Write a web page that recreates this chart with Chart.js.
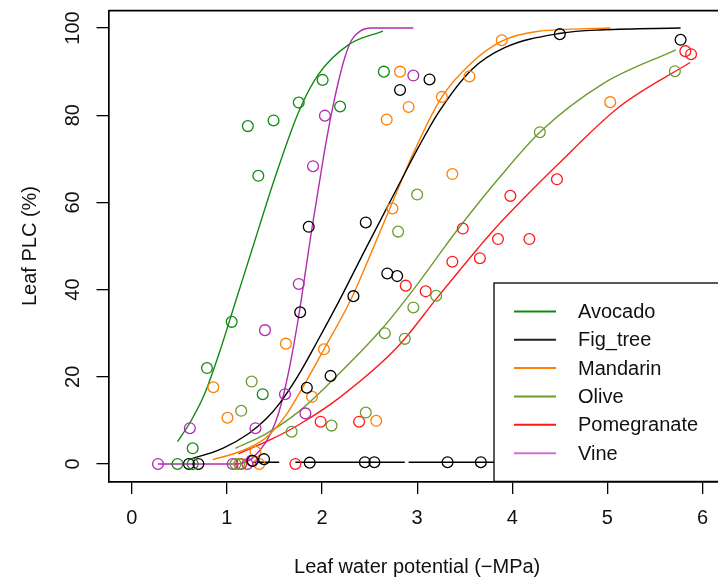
<!DOCTYPE html>
<html>
<head>
<meta charset="utf-8">
<script src="https://cdn.jsdelivr.net/npm/chart.js@4/dist/chart.umd.min.js"></script>
<style>
  html, body { margin: 0; padding: 0; overflow: hidden; background: #fff; }
  #wrap { width: 732px; height: 583px; }
</style>
</head>
<body>
<div id="wrap"><canvas id="plc" width="732" height="583"></canvas></div>
<script>
// species, colours (legend shows vine a bit lighter)
const species = ['Avocado', 'Fig_tree', 'Mandarin', 'Olive', 'Pomegranate', 'Vine'];
const colors = ['#128a12', '#000000', '#ff7f00', '#6c9c2c', '#ff1a1a', '#b02cb0'];
const legendColors = ['#128a12', '#222222', '#ff7f00', '#6c9c2c', '#ff1a1a', '#d070d0'];

const xTicks = [0, 1, 2, 3, 4, 5, 6];
const yTicks = [0, 20, 40, 60, 80, 100];

// measured points [water potential, PLC]
const avocadoPts = [[1.22, 77.5], [1.49, 78.8], [1.755, 82.9], [2.006, 88.1], [2.19, 82.0], [1.33, 66.1],
  [2.65, 90.0], [1.05, 32.6], [0.79, 22.0], [0.64, 3.6], [0.48, 0], [0.64, 0], [1.376, 16.0]];
const figPts = [[1.86, 54.4], [3.13, 88.2], [2.82, 85.8], [4.50, 98.6], [5.77, 97.3], [2.46, 55.4],
  [1.77, 34.8], [2.09, 20.2], [2.33, 38.5], [1.84, 17.5], [2.686, 43.7], [2.79, 43.1], [0.60, 0],
  [0.70, 0], [1.27, 0.7], [1.39, 1.1], [1.87, 0.3], [2.45, 0.4], [2.55, 0.4], [3.32, 0.4], [3.67, 0.4]];
const mandarinPts = [[2.82, 90.0], [2.91, 81.9], [2.68, 79.0], [3.89, 97.2], [3.55, 88.9], [3.26, 84.2],
  [5.03, 83.0], [3.37, 66.5], [2.74, 58.6], [0.857, 17.6], [1.62, 27.6], [2.02, 26.3], [1.895, 15.4],
  [1.006, 10.6], [1.30, 2.8], [1.34, 0], [2.57, 9.9]];
const olivePts = [[5.71, 90.1], [4.29, 76.1], [3.0, 61.8], [2.80, 53.3], [1.26, 18.9], [1.15, 12.2],
  [2.10, 8.8], [1.68, 7.4], [3.20, 38.6], [2.96, 35.9], [2.66, 30.0], [2.87, 28.7], [2.46, 11.8],
  [1.09, 0], [1.13, 0]];
const pomegranatePts = [[5.82, 94.7], [5.88, 94.0], [4.47, 65.3], [3.98, 61.5], [3.48, 54.0], [3.85, 51.6],
  [4.18, 51.6], [3.37, 46.4], [3.66, 47.2], [2.88, 40.9], [3.09, 39.6], [2.39, 9.7], [1.985, 9.7],
  [1.72, 0], [1.15, 0]];
const vinePts = [[2.03, 79.9], [1.905, 68.3], [2.96, 89.1], [0.61, 8.2], [0.275, 0], [1.40, 30.7],
  [1.755, 41.3], [1.61, 16.0], [1.825, 11.6], [1.30, 8.2], [1.06, 0], [1.215, 0], [1.26, 0.8]];

// fitted curves
const avocadoFit = [[0.48, 5.1], [0.62, 9.8], [0.76, 15.8], [0.92, 25.5], [1.09, 37.2], [1.27, 49.6],
  [1.51, 66.0], [1.755, 80.8], [1.96, 89.3], [2.28, 96.2], [2.64, 99.3]];
const figFit = [[0.60, 1.0], [0.955, 3.6], [1.23, 7.0], [1.41, 10.3], [1.55, 13.8], [1.755, 20.5],
  [1.96, 28.5], [2.17, 37.0], [2.45, 49.0], [2.87, 66.7], [3.01, 72.5], [3.22, 80.5], [3.57, 90.4],
  [3.92, 95.5], [4.51, 98.8], [4.96, 99.6], [5.77, 100]];
const mandarinFit = [[0.85, 1.0], [1.13, 2.8], [1.41, 6.0], [1.62, 11.2], [1.755, 16.0], [2.02, 26.3],
  [2.31, 38.0], [2.52, 48.6], [2.73, 59.5], [2.975, 72.0], [3.26, 84.2], [3.57, 92.0], [3.89, 97.0],
  [4.26, 99.2], [5.03, 100]];
const oliveFit = [[1.09, 3.6], [1.41, 6.9], [1.755, 12.0], [2.17, 20.5], [2.63, 31.0], [2.96, 40.0],
  [3.29, 49.8], [3.43, 53.9], [3.85, 65.3], [4.29, 76.1], [4.96, 87.3], [5.72, 95.0]];
const pomegranateFit = [[1.12, 2.3], [1.48, 5.8], [1.755, 9.0], [2.17, 15.0], [2.80, 27.0], [3.22, 38.4],
  [3.64, 49.5], [3.81, 53.8], [4.47, 68.5], [5.13, 82.0], [5.87, 92.1]];
const vineFit = [[0.275, 0], [1.10, 0], [1.20, 0.5], [1.27, 1.4], [1.41, 5.0], [1.51, 9.5], [1.58, 14.5],
  [1.67, 23.5], [1.755, 34.0], [1.89, 53.5], [2.02, 71.0], [2.10, 80.5], [2.17, 87.5], [2.24, 93.3],
  [2.31, 97.2], [2.40, 99.3], [2.52, 100], [2.96, 100]];

// broken black line along the zero level
const zeroLine = [[1.27, 0.4], [1.55, 0.4], [1.6, null], [1.72, 0.4], [2.87, 0.4], [2.89, null],
  [2.91, 0.4], [3.9, 0.4]];

const allPts = [avocadoPts, figPts, mandarinPts, olivePts, pomegranatePts, vinePts];
const allFits = [avocadoFit, figFit, mandarinFit, oliveFit, pomegranateFit, vineFit];

const toXY = arr => arr.map(p => ({ x: p[0], y: p[1] }));

const FONT = { family: '"Liberation Sans", Arial, sans-serif', size: 20 };

const datasets = [];
species.forEach((name, i) => {
  datasets.push({
    label: name,
    type: 'scatter',
    data: toXY(allPts[i]),
    showLine: false,
    pointStyle: 'circle',
    pointRadius: 5.4,
    pointBorderWidth: 1.3,
    pointBorderColor: colors[i],
    pointBackgroundColor: 'rgba(0,0,0,0)'
  });
});
species.forEach((name, i) => {
  datasets.push({
    label: name + ' fit',
    type: 'line',
    data: toXY(allFits[i]),
    borderColor: colors[i],
    borderWidth: 1.4,
    pointRadius: 0,
    cubicInterpolationMode: 'monotone',
    fill: false
  });
});
datasets.push({
  label: 'zero',
  type: 'line',
  data: toXY(zeroLine),
  borderColor: '#000',
  borderWidth: 1.4,
  pointRadius: 0,
  spanGaps: false,
  fill: false
});

// box top line + legend in the lower right corner
const boxAndLegend = {
  id: 'boxAndLegend',
  afterDraw(chart) {
    const { ctx, chartArea } = chart;
    ctx.save();
    ctx.strokeStyle = '#000';
    ctx.lineWidth = 1.7;
    ctx.beginPath();
    ctx.moveTo(chartArea.left, chartArea.top);
    ctx.lineTo(chartArea.right, chartArea.top);
    ctx.lineTo(chartArea.right, chartArea.bottom);
    ctx.stroke();

    const w = 231.3, h = 198.4;
    const lx = chartArea.right - w, ly = chartArea.bottom - h;
    ctx.fillStyle = '#fff';
    ctx.fillRect(lx, ly, w, h);
    ctx.lineWidth = 1.3;
    ctx.strokeRect(lx, ly, w, h);

    ctx.font = '20px "Liberation Sans", Arial, sans-serif';
    ctx.textBaseline = 'middle';
    ctx.textAlign = 'left';
    species.forEach((name, i) => {
      const y = ly + 28.4 + i * 28.35;
      ctx.strokeStyle = legendColors[i];
      ctx.lineWidth = 2;
      ctx.beginPath();
      ctx.moveTo(lx + 20, y);
      ctx.lineTo(lx + 62, y);
      ctx.stroke();
      ctx.fillStyle = '#111';
      ctx.fillText(name, lx + 84, y + 1);
    });
    ctx.restore();
  }
};

new Chart(document.getElementById('plc'), {
  type: 'scatter',
  data: { datasets },
  options: {
    responsive: false,
    animation: false,
    devicePixelRatio: 1,
    layout: { padding: { top: 10.6, right: 3, left: 0, bottom: 0 } },
    plugins: { legend: { display: false }, tooltip: { enabled: false } },
    scales: {
      x: {
        type: 'linear',
        min: -0.24,
        max: 6.24,
        afterBuildTicks: s => { s.ticks = xTicks.map(v => ({ value: v })); },
        afterFit: s => { s.height = 101.6; s.paddingLeft = 0; s.paddingRight = 0; },
        ticks: { font: FONT, color: '#111', padding: 13, autoSkip: false, maxRotation: 0 },
        grid: { drawOnChartArea: false, drawTicks: true, tickLength: 12.5, color: '#000', lineWidth: 1.3 },
        border: { display: true, color: '#000', width: 1.7 },
        title: { display: true, text: 'Leaf water potential (\u2212MPa)', font: FONT, color: '#111',
          padding: { top: 0, bottom: 4 } }
      },
      y: {
        type: 'linear',
        min: -4,
        max: 104,
        afterBuildTicks: s => { s.ticks = yTicks.map(v => ({ value: v })); },
        afterFit: s => { s.width = 109; s.paddingTop = 0; s.paddingBottom = 0; },
        ticks: { font: FONT, color: '#111', padding: 6.8, autoSkip: false,
          minRotation: 90, maxRotation: 90, crossAlign: 'center' },
        grid: { drawOnChartArea: false, drawTicks: true, tickLength: 12.5, color: '#000', lineWidth: 1.3 },
        border: { display: true, color: '#000', width: 1.7 },
        title: { display: true, text: 'Leaf PLC (%)', font: FONT, color: '#111',
          padding: { top: 18, bottom: 0 } }
      }
    }
  },
  plugins: [boxAndLegend]
});
</script>
</body>
</html>
